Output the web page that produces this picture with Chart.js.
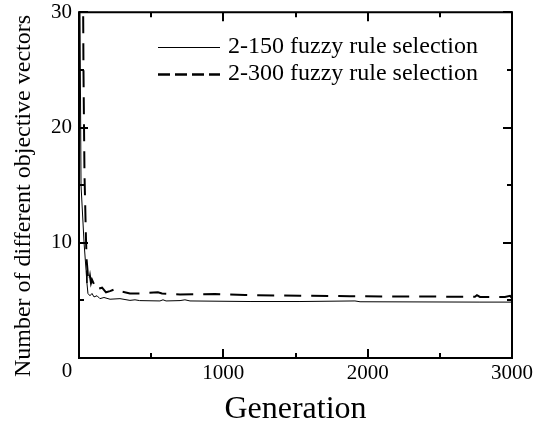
<!DOCTYPE html>
<html>
<head>
<meta charset="utf-8">
<script src="https://cdn.jsdelivr.net/npm/chart.js@4/dist/chart.umd.min.js"></script>
<style>
html,body{margin:0;padding:0;background:#fff;}
canvas{display:block;}
</style>
</head>
<body>
<canvas id="c" width="552" height="426"></canvas>
<script>
// ---- data ----
const seriesLabels = ["2-150 fuzzy rule selection", "2-300 fuzzy rule selection"];
const gen150 = [3, 7, 14, 35, 49, 55, 62, 76, 90, 104, 125, 145, 173, 215, 284, 353, 388, 420, 561, 582, 603, 700, 734, 769, 1185, 1531, 1912, 1947, 2778, 3000];
const val150 = [32, 30, 15, 10, 7.6, 6.5, 5.6, 5.4, 5.6, 5.3, 5.4, 5.15, 5.25, 5.1, 5.15, 5.0, 5.05, 4.98, 4.95, 5.05, 4.95, 4.98, 5.05, 4.95, 4.9, 4.9, 4.95, 4.88, 4.85, 4.85];
const gen300 = [28, 31, 38, 48, 53, 59, 62, 69, 76, 83, 90, 104, 118, 132, 160, 187, 215, 256, 284, 353, 423, 547, 575, 700, 942, 1150, 1531, 1877, 2362, 2743, 2757, 2778, 2951, 2986, 3000];
const val300 = [32, 25, 16, 10.5, 8.5, 7.6, 7.0, 6.6, 7.1, 6.5, 6.8, 6.4, 6.5, 6.0, 6.1, 5.7, 5.8, 6.0, 5.8, 5.6, 5.6, 5.7, 5.6, 5.52, 5.55, 5.46, 5.4, 5.36, 5.33, 5.32, 5.45, 5.3, 5.3, 5.4, 5.2];
const xTicks = [0, 1000, 2000, 3000];
const yTicks = [0, 10, 20, 30];
const xTitle = "Generation";
const yTitle = "Number of different objective vectors";

const toPts = (xs, ys) => xs.map((x, i) => ({x: x, y: ys[i]}));
const FONT = "'Liberation Serif', 'Times New Roman', serif";

const framePlugin = {
  id: 'frame',
  afterDatasetsDraw(chart) {
    const ctx = chart.ctx, a = chart.chartArea;
    const xs = chart.scales.x, ys = chart.scales.y;
    ctx.save();
    ctx.strokeStyle = '#000';
    ctx.lineWidth = 2;
    ctx.strokeRect(a.left, a.top, a.right - a.left, a.bottom - a.top);
    ctx.beginPath();
    for (let v = xs.min; v <= xs.max; v += 500) {
      const p = Math.round(xs.getPixelForValue(v));
      const len = (v % 1000 === 0) ? 9 : 5;
      ctx.moveTo(p, a.bottom); ctx.lineTo(p, a.bottom - len);
      ctx.moveTo(p, a.top); ctx.lineTo(p, a.top + len);
    }
    for (let v = ys.min; v <= ys.max; v += 5) {
      const p = Math.round(ys.getPixelForValue(v));
      const len = (v % 10 === 0) ? 9 : 5;
      ctx.moveTo(a.left, p); ctx.lineTo(a.left + len, p);
      ctx.moveTo(a.right, p); ctx.lineTo(a.right - len, p);
    }
    ctx.stroke();

    // origin label
    ctx.fillStyle = '#000';
    ctx.font = "21px " + FONT;
    ctx.textAlign = 'center';
    ctx.textBaseline = 'top';
    ctx.fillText('0', xs.getPixelForValue(0) - 12, a.bottom + 3);

    // y title
    ctx.font = "24px " + FONT;
    ctx.textBaseline = 'middle';
    ctx.translate(24, 196);
    ctx.rotate(-Math.PI / 2);
    ctx.fillText(yTitle, 0, 0);
    ctx.restore();

    // legend
    ctx.save();
    const lx0 = 158, lx1 = 220, tx = 228;
    const rows = [47, 74];
    chart.data.datasets.forEach((ds, i) => {
      const y = rows[i];
      ctx.strokeStyle = '#000';
      ctx.lineWidth = i === 0 ? 1 : 2.5;
      ctx.setLineDash(i === 0 ? [] : [12, 5]);
      ctx.beginPath();
      ctx.moveTo(lx0, y + 0.5); ctx.lineTo(lx1, y + 0.5);
      ctx.stroke();
      ctx.setLineDash([]);
      ctx.fillStyle = '#000';
      ctx.font = "24px " + FONT;
      ctx.textAlign = 'left';
      ctx.textBaseline = 'middle';
      ctx.fillText(ds.label, tx, y);
    });
    ctx.restore();
  }
};

new Chart(document.getElementById('c'), {
  type: 'line',
  data: {
    datasets: [
      {label: seriesLabels[0], data: toPts(gen150, val150), borderColor: '#000', borderWidth: 1, pointRadius: 0, tension: 0, fill: false},
      {label: seriesLabels[1], data: toPts(gen300, val300), borderColor: '#000', borderWidth: 2, borderDash: [17, 10], pointRadius: 0, tension: 0, fill: false}
    ]
  },
  options: {
    responsive: false,
    animation: false,
    devicePixelRatio: 1,
    layout: {padding: {left: 0, right: 40, top: 0, bottom: 0}},
    plugins: {legend: {display: false}, tooltip: {enabled: false}},
    scales: {
      x: {
        type: 'linear', min: 0, max: 3000,
        afterBuildTicks: s => { s.ticks = xTicks.map(v => ({value: v})); },
        afterFit: s => { s.height = 68; },
        grid: {display: false, drawTicks: false},
        border: {display: false},
        ticks: {color: '#000', font: {family: FONT, size: 21}, padding: 3, maxRotation: 0,
                callback: v => v === 0 ? '' : String(v)},
        title: {display: true, text: xTitle, color: '#000', font: {family: FONT, size: 32, lineHeight: 1}, padding: {top: 0, bottom: 0}}
      },
      y: {
        type: 'linear', min: 0, max: 30,
        afterBuildTicks: s => { s.ticks = yTicks.map(v => ({value: v})); },
        afterFit: s => { s.width = 79; },
        grid: {display: false, drawTicks: false},
        border: {display: false},
        ticks: {color: '#000', font: {family: FONT, size: 21, lineHeight: 0.5}, padding: 7,
                callback: v => v === 0 ? '' : String(v)}
      }
    }
  },
  plugins: [framePlugin]
});
</script>
</body>
</html>
